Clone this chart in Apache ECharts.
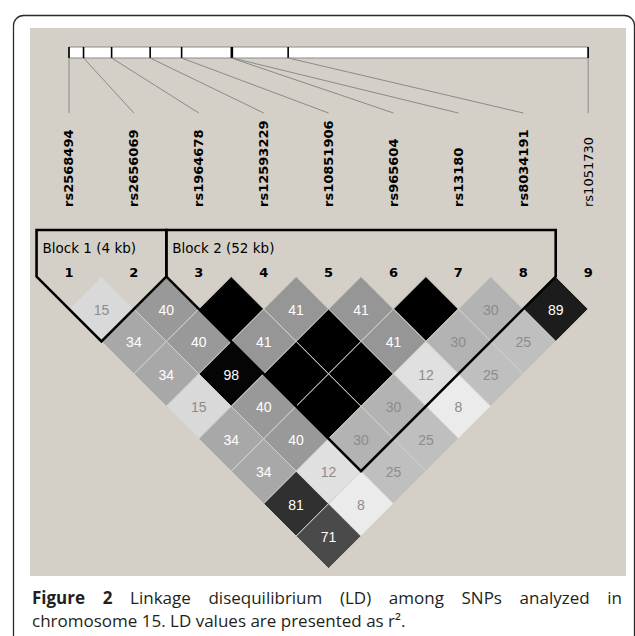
<!DOCTYPE html>
<html><head><meta charset="utf-8">
<script src="https://cdn.jsdelivr.net/npm/echarts@6/dist/echarts.min.js"></script>
<style>html,body{margin:0;padding:0;background:#fff}#c{width:635px;height:636px}</style>
</head><body><div id="c"></div>
<script>
// ---- data ----
const snpNames = ['rs2568494','rs2656069','rs1964678','rs12593229','rs10851906','rs965604','rs13180','rs8034191','rs1051730'];
const snpNumbers = ['1','2','3','4','5','6','7','8','9'];
const snpPosKb = [0, 4.3, 12.6, 24.0, 33.3, 48.0, 48.3, 64.8, 153.5];
const snpInBlock = [1,1,1,1,1,1,1,1,0];
const blockNames = ['Block 1 (4 kb)', 'Block 2 (52 kb)'];
const blockStart = [1, 3];
const blockEnd = [2, 8];
// r^2 (x100) by distance between SNP indices (d = j - i), starting at i = 1
const ldDist1 = [15, 40, 100, 41, 41, 100, 30, 89];
const ldDist2 = [34, 40, 41, 100, 41, 30, 25];
const ldDist3 = [34, 98, 100, 100, 12, 25];
const ldDist4 = [15, 40, 100, 30, 8];
const ldDist5 = [34, 40, 30, 25];
const ldDist6 = [34, 12, 25];
const ldDist7 = [81, 8];
const ldDist8 = [71];
const captionBold = ['Figure', '2'];
const captionLine1 = ['Linkage', 'disequilibrium', '(LD)', 'among', 'SNPs', 'analyzed', 'in'];
const captionLine2 = 'chromosome 15. LD values are presented as r\u00B2.';

// ---- build series data ----
const ldRows = [ldDist1, ldDist2, ldDist3, ldDist4, ldDist5, ldDist6, ldDist7, ldDist8];
const ldData = [];
ldRows.forEach((row, k) => { const d = k + 1; row.forEach((v, n) => ldData.push([n + 1, n + 1 + d, v])); });
const kb0 = snpPosKb[0], kbN = snpPosKb[snpPosKb.length - 1], nS = snpNames.length;
const kbToIdx = kb => 1 + (nS - 1) * (kb - kb0) / (kbN - kb0);
const snpData = snpNames.map((n, k) => [k + 1, kbToIdx(snpPosKb[k]), snpInBlock[k]]);
const blockData = blockNames.map((n, k) => [blockStart[k], blockEnd[k], k]);

// ---- layout constants (pixels) ----
const BAR_TOP = 47, BAR_BOTTOM = 58, LINE_END = 113, LABEL_BASE = 207, NUM_Y = 272, BLOCK_TOP = 230, BLOCK_TEXT_Y = 248;
const BG = '#d4d0c8';

const chart = echarts.init(document.getElementById('c'), null, {renderer: 'svg'});

// caption layout via text measurement (justified first line)
const mctx = document.createElement('canvas').getContext('2d');
const CAP_FONT = '"Open Sans", "Noto Sans", sans-serif';
const CAP_SIZE = 17;
function tw(str, weight) { mctx.font = weight + ' ' + CAP_SIZE + 'px ' + CAP_FONT; return mctx.measureText(str).width; }
const capLeft = 32, capRight = 622, cap1Y = 597, cap2Y = 620;
const words = captionBold.map(w => ({t: w, b: 'bold'})).concat(captionLine1.map(w => ({t: w, b: 'normal'})));
const wsum = words.reduce((s, w) => s + tw(w.t, w.b), 0);
const gap = Math.max(3, (capRight - capLeft - wsum) / (words.length - 1));
const capElems = [];
let cx = capLeft;
words.forEach(w => {
  capElems.push({type: 'text', x: cx, y: cap1Y, z: 5, style: {text: w.t, fill: '#231f20', font: w.b + ' ' + CAP_SIZE + 'px ' + CAP_FONT, align: 'left', verticalAlign: 'middle'}});
  cx += tw(w.t, w.b) + gap;
});
capElems.push({type: 'text', x: capLeft, y: cap2Y, z: 5, style: {text: captionLine2, fill: '#231f20', font: 'normal ' + CAP_SIZE + 'px ' + CAP_FONT, align: 'left', verticalAlign: 'middle'}});

const option = {
  animation: false,
  backgroundColor: '#fff',
  graphic: [
    {type: 'rect', z: -10, shape: {x: 13.5, y: 15.5, width: 621, height: 700, r: 10}, style: {fill: '#fff', stroke: '#2a2a2a', lineWidth: 1.3}},
    {type: 'rect', z: -9, shape: {x: 30, y: 28, width: 596, height: 548}, style: {fill: BG}},
    ...capElems
  ],
  grid: {left: 36.55, top: 276.55, width: 584.05, height: 292.05},
  xAxis: {type: 'value', min: 0.5, max: 9.5, show: false},
  yAxis: {type: 'value', min: 0, max: 9, inverse: true, show: false},
  series: [
    {
      type: 'custom', name: 'ld', data: ldData, clip: false, z: 2,
      renderItem: (params, api) => {
        const i = api.value(0), j = api.value(1), v = api.value(2);
        const c = (i + j) / 2, r = j - i;
        const L = api.coord([c - 0.5, r]), T = api.coord([c, r - 1]), R = api.coord([c + 0.5, r]), B = api.coord([c, r + 1]), C = api.coord([c, r]);
        const s = Math.round(255 * (1 - v / 100));
        return {type: 'group', children: [
          {type: 'polygon', shape: {points: [L, T, R, B]}, style: {fill: 'rgb(' + s + ',' + s + ',' + s + ')', stroke: BG, lineWidth: 1}},
          {type: 'text', style: {text: v < 100 ? String(v) : '', x: C[0], y: C[1] + 1, align: 'center', verticalAlign: 'middle',
            fill: v >= 33 ? '#ffffff' : '#8c8c8c', font: '14px "Liberation Sans", Arial, sans-serif'}}
        ]};
      }
    },
    {
      type: 'custom', name: 'bar', data: [[kbToIdx(kb0), kbToIdx(kbN)]], clip: false, z: 3,
      renderItem: (params, api) => {
        const a = api.coord([api.value(0), 0]), b = api.coord([api.value(1), 0]);
        return {type: 'rect', shape: {x: a[0], y: BAR_TOP, width: b[0] - a[0], height: BAR_BOTTOM - BAR_TOP}, style: {fill: '#fff', stroke: '#8a8a8a', lineWidth: 1}};
      }
    },
    {
      type: 'custom', name: 'snps', data: snpData, clip: false, z: 4,
      renderItem: (params, api) => {
        const k = api.value(0), pos = api.value(1), inB = api.value(2);
        const lab = api.coord([k, 0]), bar = api.coord([pos, 0]);
        const idx = params.dataIndex;
        return {type: 'group', children: [
          {type: 'line', shape: {x1: bar[0], y1: BAR_TOP, x2: bar[0], y2: BAR_BOTTOM}, style: {stroke: '#000', lineWidth: 1.6}},
          {type: 'line', shape: {x1: bar[0], y1: BAR_BOTTOM, x2: lab[0], y2: LINE_END}, style: {stroke: '#8a8a8a', lineWidth: 1}},
          {type: 'text', x: lab[0], y: LABEL_BASE, rotation: Math.PI / 2,
            style: {text: snpNames[idx], x: 0, y: 0, align: 'left', verticalAlign: 'middle', fill: '#000',
              font: (inB ? 'bold ' : 'normal ') + '13px "DejaVu Sans", sans-serif'}},
          {type: 'text', style: {text: snpNumbers[idx], x: lab[0], y: NUM_Y, align: 'center', verticalAlign: 'middle', fill: '#000',
            font: 'bold 13px "DejaVu Sans", sans-serif'}}
        ]};
      }
    },
    {
      type: 'custom', name: 'blocks', data: blockData, clip: false, z: 5,
      renderItem: (params, api) => {
        const a = api.value(0), b = api.value(1), k = api.value(2);
        const L = api.coord([a - 0.5, 0]), R = api.coord([b + 0.5, 0]), B = api.coord([(a + b) / 2, b - a + 1]);
        return {type: 'group', children: [
          {type: 'polygon', shape: {points: [[L[0], BLOCK_TOP], L, B, R, [R[0], BLOCK_TOP]]}, style: {fill: 'none', stroke: '#000', lineWidth: 2.6, lineJoin: 'miter'}},
          {type: 'text', style: {text: blockNames[k], x: L[0] + 6, y: BLOCK_TEXT_Y, align: 'left', verticalAlign: 'middle', fill: '#000',
            font: '13.5px "DejaVu Sans", sans-serif'}}
        ]};
      }
    }
  ]
};
chart.setOption(option);
</script>
</body></html>
